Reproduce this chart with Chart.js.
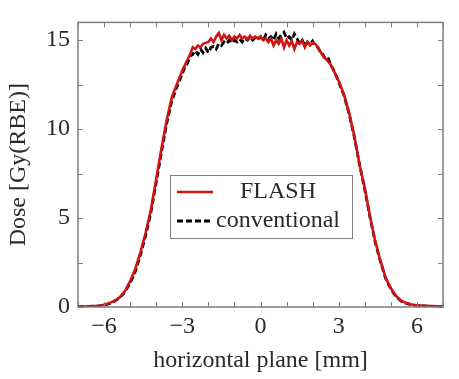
<!DOCTYPE html>
<html>
<head>
<meta charset="utf-8">
<script src="https://cdn.jsdelivr.net/npm/chart.js@4.4.0/dist/chart.umd.min.js"></script>
<style>
  html, body { margin: 0; padding: 0; background: #fff; }
  #wrap { width: 459px; height: 379px; }
</style>
</head>
<body>
<div id="wrap"><canvas id="doseChart" width="459" height="379"></canvas></div>
<script>
// lateral position [mm]
const positions = [
  -7.0, -6.8, -6.6, -6.4, -6.2, -6.0, -5.8, -5.6, -5.4, -5.2,
  -5.0, -4.8, -4.6, -4.4, -4.2, -4.0, -3.8, -3.6, -3.4, -3.2,
  -3.0, -2.9, -2.8, -2.7, -2.6, -2.5, -2.4, -2.3, -2.2, -2.1,
  -2.0, -1.9, -1.8, -1.7, -1.6, -1.5, -1.4, -1.3, -1.2, -1.1,
  -1.0, -0.9, -0.8, -0.7, -0.6, -0.5, -0.4, -0.3, -0.2, -0.1,
  0.0, 0.1, 0.2, 0.3, 0.4, 0.5, 0.6, 0.7, 0.8, 0.9,
  1.0, 1.1, 1.2, 1.3, 1.4, 1.5, 1.6, 1.7, 1.8, 1.9,
  2.0, 2.1, 2.2, 2.3, 2.4, 2.5, 2.6, 2.7, 2.8, 2.9,
  3.0, 3.2, 3.4, 3.6, 3.8, 4.0, 4.2, 4.4, 4.6, 4.8,
  5.0, 5.2, 5.4, 5.6, 5.8, 6.0, 6.2, 6.4, 6.6, 6.8, 7.0
];

const flashDose = [
  0.02, 0.03, 0.03, 0.05, 0.07, 0.12, 0.22, 0.35, 0.55, 0.9,
  1.45, 2.15, 3.1, 4.2, 5.5, 7.2, 8.9, 10.5, 11.8, 12.55,
  13.3, 13.6, 13.9, 14.2, 14.6, 14.5, 14.7, 14.6, 14.8, 14.85,
  14.9, 15.1, 14.9, 15.2, 15.4, 15.0, 15.3, 15.1, 15.25, 15.0,
  15.2, 15.1, 15.3, 15.1, 15.2, 15.05, 15.25, 15.1, 15.2, 15.1,
  15.2, 15.0, 15.1, 14.9, 15.1, 14.7, 15.0, 14.8, 15.1, 14.6,
  15.0, 14.7, 14.95, 14.5, 14.9, 14.8, 14.95, 14.6, 14.9, 14.7,
  14.85, 14.8, 14.6, 14.35, 14.1, 13.95, 13.8, 13.6, 13.3, 13.0,
  12.7, 11.95, 10.9, 9.6, 8.0, 6.7, 5.1, 3.7, 2.6, 1.65,
  1.05, 0.62, 0.35, 0.22, 0.14, 0.1, 0.08, 0.06, 0.05, 0.04, 0.03
];

const conventionalDose = [
  0.03, 0.03, 0.04, 0.05, 0.06, 0.1, 0.18, 0.32, 0.52, 0.85,
  1.35, 2.0, 2.95, 4.05, 5.35, 7.0, 8.7, 10.3, 11.6, 12.4,
  13.1, 13.5, 13.7, 14.1, 14.2, 14.4, 14.2, 14.5, 14.3, 14.55,
  14.3, 14.6, 14.65, 14.5, 14.8, 14.7, 14.9, 14.8, 15.0, 14.85,
  15.0, 14.9, 15.05, 14.9, 15.1, 15.0, 15.2, 15.0, 15.15, 15.05,
  15.2, 15.0, 15.3, 15.1, 15.2, 15.0, 15.35, 15.1, 15.3, 15.45,
  15.1, 15.2, 15.0, 15.35, 15.1, 14.8, 15.0, 14.7, 14.9, 14.75,
  14.95, 14.7, 14.6, 14.3, 14.2, 13.9, 13.95, 13.6, 13.35, 13.0,
  12.65, 11.9, 10.85, 9.55, 8.0, 6.6, 5.05, 3.65, 2.55, 1.6,
  1.0, 0.58, 0.32, 0.2, 0.12, 0.08, 0.06, 0.05, 0.04, 0.03, 0.02
];

const xTicks = [-6, -3, 0, 3, 6];
const xMinorTicks = [-7, -6, -5, -4, -3, -2, -1, 0, 1, 2, 3, 4, 5, 6, 7];
const yTicks = [0, 5, 10, 15];
const yMinorTicks = [0, 2.5, 5, 7.5, 10, 12.5, 15];

const serif = '"Liberation Serif", "DejaVu Serif", serif';
const axisGray = '#7f7f7f';
const textColor = '#2a2a2a';

function toPoints(ys) {
  return positions.map((x, i) => ({ x: x, y: ys[i] }));
}

function fmt(v) {
  return v < 0 ? '\u2212' + Math.abs(v) : String(v);
}

// ticks drawn inside the frame on all four sides, plus the frame itself
const frameTicks = {
  id: 'frameTicks',
  afterDatasetsDraw(chart) {
    const { ctx, chartArea: a, scales } = chart;
    ctx.save();
    ctx.strokeStyle = axisGray;
    ctx.lineWidth = 1;
    ctx.beginPath();
    xMinorTicks.forEach(v => {
      const px = Math.round(scales.x.getPixelForValue(v)) + 0.5;
      ctx.moveTo(px, a.bottom); ctx.lineTo(px, a.bottom - 5);
      ctx.moveTo(px, a.top); ctx.lineTo(px, a.top + 5);
    });
    yMinorTicks.forEach(v => {
      const py = Math.round(scales.y.getPixelForValue(v)) + 0.5;
      ctx.moveTo(a.left, py); ctx.lineTo(a.left + 5, py);
      ctx.moveTo(a.right, py); ctx.lineTo(a.right - 5, py);
    });
    ctx.stroke();
    ctx.lineWidth = 1.5;
    ctx.strokeRect(a.left, a.top, a.right - a.left, a.bottom - a.top);
    ctx.restore();
  }
};

// legend box placed inside the plot like the pgfplots one
const boxLegend = {
  id: 'boxLegend',
  afterDraw(chart) {
    const { ctx } = chart;
    const left = 170, top = 175, w = 182, h = 63;
    ctx.save();
    ctx.fillStyle = '#fff';
    ctx.fillRect(left, top, w, h);
    ctx.strokeStyle = axisGray;
    ctx.lineWidth = 1;
    ctx.strokeRect(left + 0.5, top + 0.5, w, h);
    ctx.font = '24px ' + serif;
    ctx.textAlign = 'center';
    ctx.textBaseline = 'middle';
    const rows = [192, 221];
    chart.data.datasets.forEach((ds, i) => {
      const y = rows[i];
      ctx.strokeStyle = ds.borderColor;
      ctx.lineWidth = ds.borderWidth;
      ctx.setLineDash(ds.borderDash || []);
      ctx.beginPath();
      ctx.moveTo(177, y); ctx.lineTo(213, y);
      ctx.stroke();
      ctx.setLineDash([]);
      ctx.fillStyle = textColor;
      ctx.fillText(ds.label, 278, y);
    });
    ctx.restore();
  }
};

new Chart(document.getElementById('doseChart'), {
  type: 'line',
  data: {
    datasets: [
      {
        label: 'FLASH',
        data: toPoints(flashDose),
        borderColor: '#d01414',
        borderWidth: 2.6,
        pointRadius: 0,
        tension: 0,
        fill: false
      },
      {
        label: 'conventional',
        data: toPoints(conventionalDose),
        borderColor: '#000',
        borderWidth: 2.8,
        borderDash: [6, 3],
        pointRadius: 0,
        tension: 0,
        fill: false
      }
    ]
  },
  options: {
    responsive: false,
    animation: false,
    layout: { padding: { left: 0, right: 16, top: 17, bottom: 4 } },
    plugins: {
      legend: { display: false },
      tooltip: { enabled: false }
    },
    scales: {
      x: {
        type: 'linear',
        min: -7,
        max: 7,
        afterBuildTicks: s => { s.ticks = xTicks.map(v => ({ value: v })); },
        afterFit: s => { s.height = 68; },
        grid: { display: false, drawTicks: false },
        border: { display: false },
        ticks: {
          color: textColor,
          font: { family: serif, size: 24 },
          padding: 5,
          maxRotation: 0,
          callback: v => fmt(v)
        },
        title: {
          display: true,
          text: 'horizontal plane [mm]',
          color: textColor,
          font: { family: serif, size: 24 },
          padding: { top: 4, bottom: 0 }
        }
      },
      y: {
        type: 'linear',
        min: 0,
        max: 16,
        afterBuildTicks: s => { s.ticks = yTicks.map(v => ({ value: v })); },
        afterFit: s => { s.width = 78; },
        grid: { display: false, drawTicks: false },
        border: { display: false },
        ticks: {
          color: textColor,
          font: { family: serif, size: 24 },
          padding: 8,
          callback: v => fmt(v)
        },
        title: {
          display: true,
          text: 'Dose [Gy(RBE)]',
          color: textColor,
          font: { family: serif, size: 24 },
          padding: { top: 4, bottom: 0 }
        }
      }
    }
  },
  plugins: [frameTicks, boxLegend]
});
</script>
</body>
</html>
